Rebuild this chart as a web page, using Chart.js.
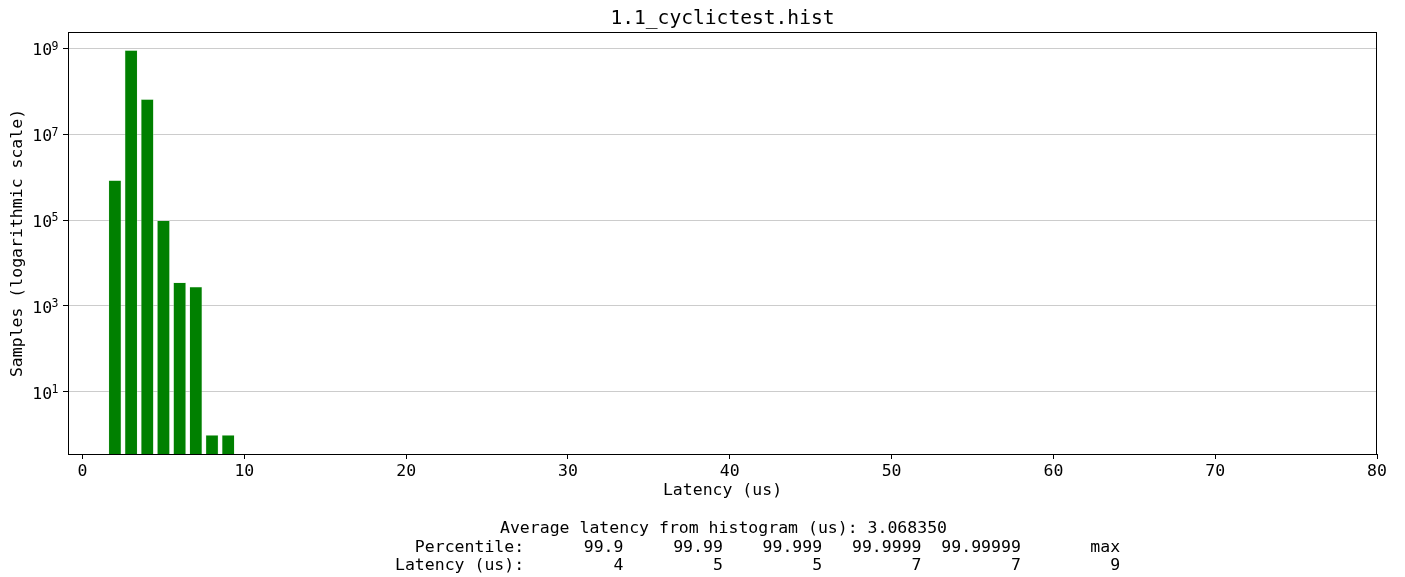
<!DOCTYPE html>
<html>
<head>
<meta charset="utf-8">
<script src="https://cdn.jsdelivr.net/npm/chart.js@4"></script>
<style>
  body { margin: 0; background: #fff; }
  #wrap { position: relative; width: 1405px; height: 577px; font-family: "DejaVu Sans Mono", monospace; color: #000; }
  #chart { position: absolute; left: 0; top: 0; }
  .txt { position: absolute; white-space: pre; font-size: 16.5px; line-height: 19px; }
  #title { position: absolute; left: 68px; width: 1309px; top: 6px; text-align: center; font-size: 19.6px; line-height: 24px; white-space: pre; }
</style>
</head>
<body>
<div id="wrap">
  <canvas id="chart" width="1405" height="577"></canvas>
  <div id="title">1.1_cyclictest.hist</div>
  <div class="txt" id="avg" style="left:500px; top:518px;"></div>
  <div class="txt" id="pct" style="left:395px; top:537px;"></div>
  <div class="txt" id="lat" style="left:395px; top:555px;"></div>
</div>
<script>
// histogram data (latency in us -> sample count)
const latency = [2, 3, 4, 5, 6, 7, 8, 9];
const samples = [840000, 898000000, 65000000, 98000, 3560, 2810, 1, 1];

const xTicks = [0, 10, 20, 30, 40, 50, 60, 70, 80];
const yTicks = [1e1, 1e3, 1e5, 1e7, 1e9];

const percentiles = ['99.9', '99.99', '99.999', '99.9999', '99.99999', 'max'];
const pctLatency = [4, 5, 5, 7, 7, 9];
const avgLatency = '3.068350';

// footer text
document.getElementById('avg').textContent = 'Average latency from histogram (us): ' + avgLatency;
document.getElementById('pct').textContent = '  Percentile:' + percentiles.map(p => p.padStart(10)).join('');
document.getElementById('lat').textContent = 'Latency (us):' + pctLatency.map(v => String(v).padStart(10)).join('');

const mono = '"DejaVu Sans Mono", monospace';

// y labels as 10 with a raised exponent, like matplotlib's log formatter
const powLabels = {
  id: 'powLabels',
  afterDraw(chart) {
    const y = chart.scales.y;
    const ctx = chart.ctx;
    ctx.save();
    ctx.fillStyle = '#000';
    ctx.textBaseline = 'middle';
    yTicks.forEach(v => {
      const py = y.getPixelForValue(v);
      const exp = String(Math.round(Math.log10(v)));
      ctx.font = '11.5px ' + mono;
      ctx.textAlign = 'right';
      ctx.fillText(exp, 58.5, py - 1.5);
      const ew = ctx.measureText(exp).width;
      ctx.font = '16.5px ' + mono;
      ctx.fillText('10', 58.5 - ew + 0.5, py + 2.5);
    });
    ctx.restore();
  }
};

// draws the closed box around the plot
const frame = {
  id: 'frame',
  afterDraw(chart) {
    const a = chart.chartArea;
    const ctx = chart.ctx;
    ctx.save();
    ctx.strokeStyle = '#000';
    ctx.lineWidth = 1;
    ctx.strokeRect(Math.round(a.left) + 0.5, Math.round(a.top) + 0.5, Math.round(a.right - a.left) - 1, Math.round(a.bottom - a.top));
    ctx.restore();
  }
};

new Chart(document.getElementById('chart'), {
  type: 'bar',
  data: {
    datasets: [{
      data: latency.map((x, i) => ({ x: x, y: samples[i] })),
      backgroundColor: '#008000',
      borderColor: 'rgba(220,240,220,0.8)',
      borderWidth: 0.6,
      barPercentage: 0.8,
      categoryPercentage: 1.0
    }]
  },
  options: {
    responsive: false,
    animation: false,
    layout: { padding: { top: 32, right: 28, left: 0, bottom: 73 } },
    plugins: {
      legend: { display: false },
      tooltip: { enabled: false }
    },
    scales: {
      x: {
        type: 'linear',
        min: -0.9,
        max: 80,
        offset: false,
        afterBuildTicks: s => { s.ticks = xTicks.map(v => ({ value: v })); },
        afterFit: s => { s.height = 50; },
        grid: { display: true, offset: false, drawOnChartArea: false, drawTicks: true, tickLength: 5, tickColor: '#000' },
        border: { display: true, color: '#000', width: 1 },
        ticks: { color: '#000', padding: 3, maxRotation: 0, font: { family: mono, size: 16.5 } },
        title: { display: true, text: 'Latency (us)', color: '#000', padding: { top: 0, bottom: 3 }, font: { family: mono, size: 16.5 } }
      },
      y: {
        type: 'logarithmic',
        min: 0.361,
        max: 2.36e9,
        z: 1,
        afterBuildTicks: s => { s.ticks = yTicks.map(v => ({ value: v })); },
        afterFit: s => { s.width = 68; },
        grid: { color: '#cccccc', lineWidth: 1, drawTicks: true, tickLength: 5, tickColor: '#000' },
        border: { display: true, color: '#000', width: 1 },
        ticks: { color: '#000', padding: 3, callback: () => '', font: { family: mono, size: 16.5 } },
        title: { display: true, text: 'Samples (logarithmic scale)', color: '#000', padding: { top: 8, bottom: 0 }, font: { family: mono, size: 16.5 } }
      }
    }
  },
  plugins: [frame, powLabels]
});
</script>
</body>
</html>
